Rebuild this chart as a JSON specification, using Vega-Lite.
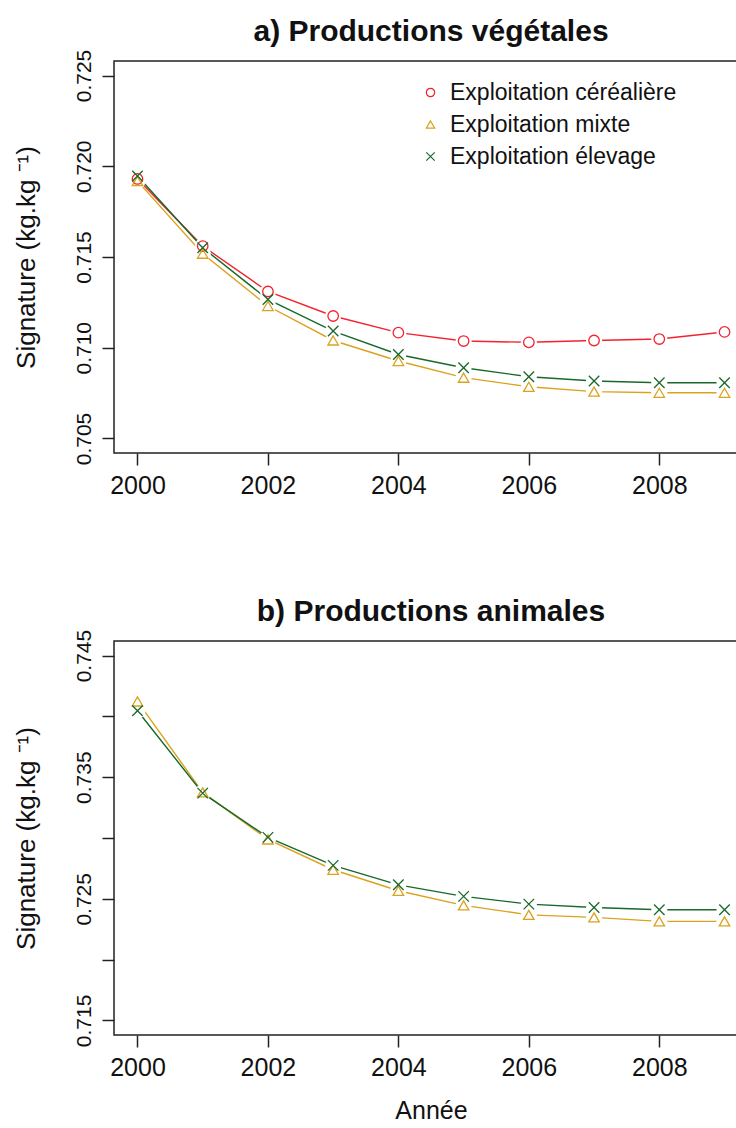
{
  "$schema": "https://vega.github.io/schema/vega-lite/v6.json",
  "background": "white",
  "padding": {"left": 12, "top": 16, "right": 0, "bottom": 0},
  "bounds": "flush",
  "spacing": 188,
  "config": {
    "font": "Liberation Sans",
    "view": {"stroke": "#222222", "strokeWidth": 1.5},
    "axis": {"grid": false, "domain": false, "tickColor": "#222222", "tickWidth": 1.5, "tickSize": 12, "labelColor": "#111111", "titleColor": "#111111", "labelFont": "Liberation Sans", "titleFont": "Liberation Sans", "titleFontWeight": "normal", "labelFlush": false, "labelOverlap": false},
    "title": {"font": "Liberation Sans", "fontWeight": "bold", "fontSize": 30, "color": "#111111", "anchor": "middle", "frame": "group"}
  },
  "resolve": {"scale": {"color": "independent", "shape": "independent", "stroke": "independent", "x": "independent", "y": "independent"}, "legend": {"color": "independent", "shape": "independent", "stroke": "independent"}},
  "datasets": {
    "vegetales": [
      {"annee": 2000, "type": "Exploitation céréalière", "valeur": 0.7193},
      {"annee": 2001, "type": "Exploitation céréalière", "valeur": 0.7156},
      {"annee": 2002, "type": "Exploitation céréalière", "valeur": 0.7131},
      {"annee": 2003, "type": "Exploitation céréalière", "valeur": 0.71175},
      {"annee": 2004, "type": "Exploitation céréalière", "valeur": 0.71083},
      {"annee": 2005, "type": "Exploitation céréalière", "valeur": 0.71037},
      {"annee": 2006, "type": "Exploitation céréalière", "valeur": 0.7103},
      {"annee": 2007, "type": "Exploitation céréalière", "valeur": 0.7104},
      {"annee": 2008, "type": "Exploitation céréalière", "valeur": 0.71048},
      {"annee": 2009, "type": "Exploitation céréalière", "valeur": 0.71087},
      {"annee": 2000, "type": "Exploitation mixte", "valeur": 0.71918},
      {"annee": 2001, "type": "Exploitation mixte", "valeur": 0.71518},
      {"annee": 2002, "type": "Exploitation mixte", "valeur": 0.7123},
      {"annee": 2003, "type": "Exploitation mixte", "valeur": 0.7104},
      {"annee": 2004, "type": "Exploitation mixte", "valeur": 0.70927},
      {"annee": 2005, "type": "Exploitation mixte", "valeur": 0.70835},
      {"annee": 2006, "type": "Exploitation mixte", "valeur": 0.70785},
      {"annee": 2007, "type": "Exploitation mixte", "valeur": 0.70758},
      {"annee": 2008, "type": "Exploitation mixte", "valeur": 0.70752},
      {"annee": 2009, "type": "Exploitation mixte", "valeur": 0.70752},
      {"annee": 2000, "type": "Exploitation élevage", "valeur": 0.71946},
      {"annee": 2001, "type": "Exploitation élevage", "valeur": 0.71551},
      {"annee": 2002, "type": "Exploitation élevage", "valeur": 0.71266},
      {"annee": 2003, "type": "Exploitation élevage", "valeur": 0.71092},
      {"annee": 2004, "type": "Exploitation élevage", "valeur": 0.70963},
      {"annee": 2005, "type": "Exploitation élevage", "valeur": 0.7089},
      {"annee": 2006, "type": "Exploitation élevage", "valeur": 0.7084},
      {"annee": 2007, "type": "Exploitation élevage", "valeur": 0.70817},
      {"annee": 2008, "type": "Exploitation élevage", "valeur": 0.70807},
      {"annee": 2009, "type": "Exploitation élevage", "valeur": 0.70807}
    ],
    "animales": [
      {"annee": 2000, "type": "Exploitation mixte", "valeur": 0.74123},
      {"annee": 2001, "type": "Exploitation mixte", "valeur": 0.73375},
      {"annee": 2002, "type": "Exploitation mixte", "valeur": 0.72988},
      {"annee": 2003, "type": "Exploitation mixte", "valeur": 0.72739},
      {"annee": 2004, "type": "Exploitation mixte", "valeur": 0.72566},
      {"annee": 2005, "type": "Exploitation mixte", "valeur": 0.72446},
      {"annee": 2006, "type": "Exploitation mixte", "valeur": 0.72368},
      {"annee": 2007, "type": "Exploitation mixte", "valeur": 0.72347},
      {"annee": 2008, "type": "Exploitation mixte", "valeur": 0.72314},
      {"annee": 2009, "type": "Exploitation mixte", "valeur": 0.72314},
      {"annee": 2000, "type": "Exploitation élevage", "valeur": 0.74046},
      {"annee": 2001, "type": "Exploitation élevage", "valeur": 0.73369},
      {"annee": 2002, "type": "Exploitation élevage", "valeur": 0.73005},
      {"annee": 2003, "type": "Exploitation élevage", "valeur": 0.72775},
      {"annee": 2004, "type": "Exploitation élevage", "valeur": 0.72615},
      {"annee": 2005, "type": "Exploitation élevage", "valeur": 0.7252},
      {"annee": 2006, "type": "Exploitation élevage", "valeur": 0.72456},
      {"annee": 2007, "type": "Exploitation élevage", "valeur": 0.72429},
      {"annee": 2008, "type": "Exploitation élevage", "valeur": 0.7241},
      {"annee": 2009, "type": "Exploitation élevage", "valeur": 0.7241}
    ]
  },
  "vconcat": [
    {
      "width": 634,
      "height": 392,
      "title": {"text": "a) Productions végétales", "offset": 2},
      "data": {"name": "vegetales"},
      "encoding": {
        "x": {"field": "annee", "type": "quantitative", "scale": {"domain": [1999.64, 2009.36], "nice": false, "zero": false}, "axis": {"values": [2000, 2002, 2004, 2006, 2008], "format": "d", "title": null, "labelFontSize": 25, "labelPadding": 8}},
        "y": {"field": "valeur", "type": "quantitative", "scale": {"domain": [0.7042, 0.7258], "nice": false, "zero": false}, "axis": {"values": [0.705, 0.71, 0.715, 0.72, 0.725], "format": ".3f", "title": "Signature (kg.kg ⁻¹)", "labelAngle": -90, "labelAlign": "center", "labelBaseline": "bottom", "labelFontSize": 21, "labelPadding": 8, "titleFontSize": 26, "titlePadding": 34}}
      },
      "layer": [
        {"mark": {"type": "line", "strokeWidth": 1.4}, "encoding": {"stroke": {"field": "type", "type": "nominal", "scale": {"domain": ["Exploitation élevage", "Exploitation mixte", "Exploitation céréalière"], "range": ["#17692B", "#DAA21E", "#F5222D"]}, "legend": null}}},
        {"mark": {"type": "point", "filled": true, "size": 260, "color": "white", "opacity": 1, "strokeWidth": 0}, "encoding": {"detail": {"field": "type", "type": "nominal"}}},
        {"mark": {"type": "point", "filled": false, "strokeWidth": 1.3, "opacity": 1, "size": 110},
         "encoding": {
           "color": {"field": "type", "type": "nominal", "scale": {"domain": ["Exploitation céréalière", "Exploitation mixte", "Exploitation élevage"], "range": ["#F5222D", "#DAA21E", "#17692B"]}, "legend": {"orient": "none", "legendX": 305, "legendY": 20, "title": null, "labelFont": "Liberation Sans", "labelFontSize": 23, "labelLimit": 500, "labelColor": "#111111", "symbolSize": 70, "rowPadding": 8, "labelOffset": 8, "padding": 0, "symbolStrokeWidth": 1.2}},
           "shape": {"field": "type", "type": "nominal", "scale": {"domain": ["Exploitation céréalière", "Exploitation mixte", "Exploitation élevage"], "range": ["circle", "triangle-up", "M-1,-1L1,1M-1,1L1,-1"]}, "legend": {"orient": "none", "legendX": 305, "legendY": 20, "title": null, "labelFont": "Liberation Sans", "labelFontSize": 23, "labelLimit": 500, "labelColor": "#111111", "symbolSize": 70, "rowPadding": 8, "labelOffset": 8, "padding": 0, "symbolStrokeWidth": 1.2}}
         }}
      ]
    },
    {
      "width": 634,
      "height": 394,
      "title": {"text": "b) Productions animales", "offset": 2},
      "data": {"name": "animales"},
      "encoding": {
        "x": {"field": "annee", "type": "quantitative", "scale": {"domain": [1999.64, 2009.36], "nice": false, "zero": false}, "axis": {"values": [2000, 2002, 2004, 2006, 2008], "format": "d", "title": "Année", "labelFontSize": 25, "labelPadding": 8, "titleFontSize": 25, "titlePadding": 18}},
        "y": {"field": "valeur", "type": "quantitative", "scale": {"domain": [0.7138, 0.7462], "nice": false, "zero": false}, "axis": {"values": [0.715, 0.72, 0.725, 0.73, 0.735, 0.74, 0.745], "format": ".3f", "labelExpr": "round(datum.value * 1000) % 10 == 5 ? datum.label : ''", "title": "Signature (kg.kg ⁻¹)", "labelAngle": -90, "labelAlign": "center", "labelBaseline": "bottom", "labelFontSize": 21, "labelPadding": 8, "titleFontSize": 26, "titlePadding": 34}}
      },
      "layer": [
        {"mark": {"type": "line", "strokeWidth": 1.4}, "encoding": {"stroke": {"field": "type", "type": "nominal", "scale": {"domain": ["Exploitation élevage", "Exploitation mixte", "Exploitation céréalière"], "range": ["#17692B", "#DAA21E", "#F5222D"]}, "legend": null}}},
        {"mark": {"type": "point", "filled": true, "size": 260, "color": "white", "opacity": 1, "strokeWidth": 0}, "encoding": {"detail": {"field": "type", "type": "nominal"}}},
        {"mark": {"type": "point", "filled": false, "strokeWidth": 1.3, "opacity": 1, "size": 110},
         "encoding": {
           "color": {"field": "type", "type": "nominal", "scale": {"domain": ["Exploitation céréalière", "Exploitation mixte", "Exploitation élevage"], "range": ["#F5222D", "#DAA21E", "#17692B"]}, "legend": null},
           "shape": {"field": "type", "type": "nominal", "scale": {"domain": ["Exploitation céréalière", "Exploitation mixte", "Exploitation élevage"], "range": ["circle", "triangle-up", "M-1,-1L1,1M-1,1L1,-1"]}, "legend": null}
         }}
      ]
    }
  ]
}
